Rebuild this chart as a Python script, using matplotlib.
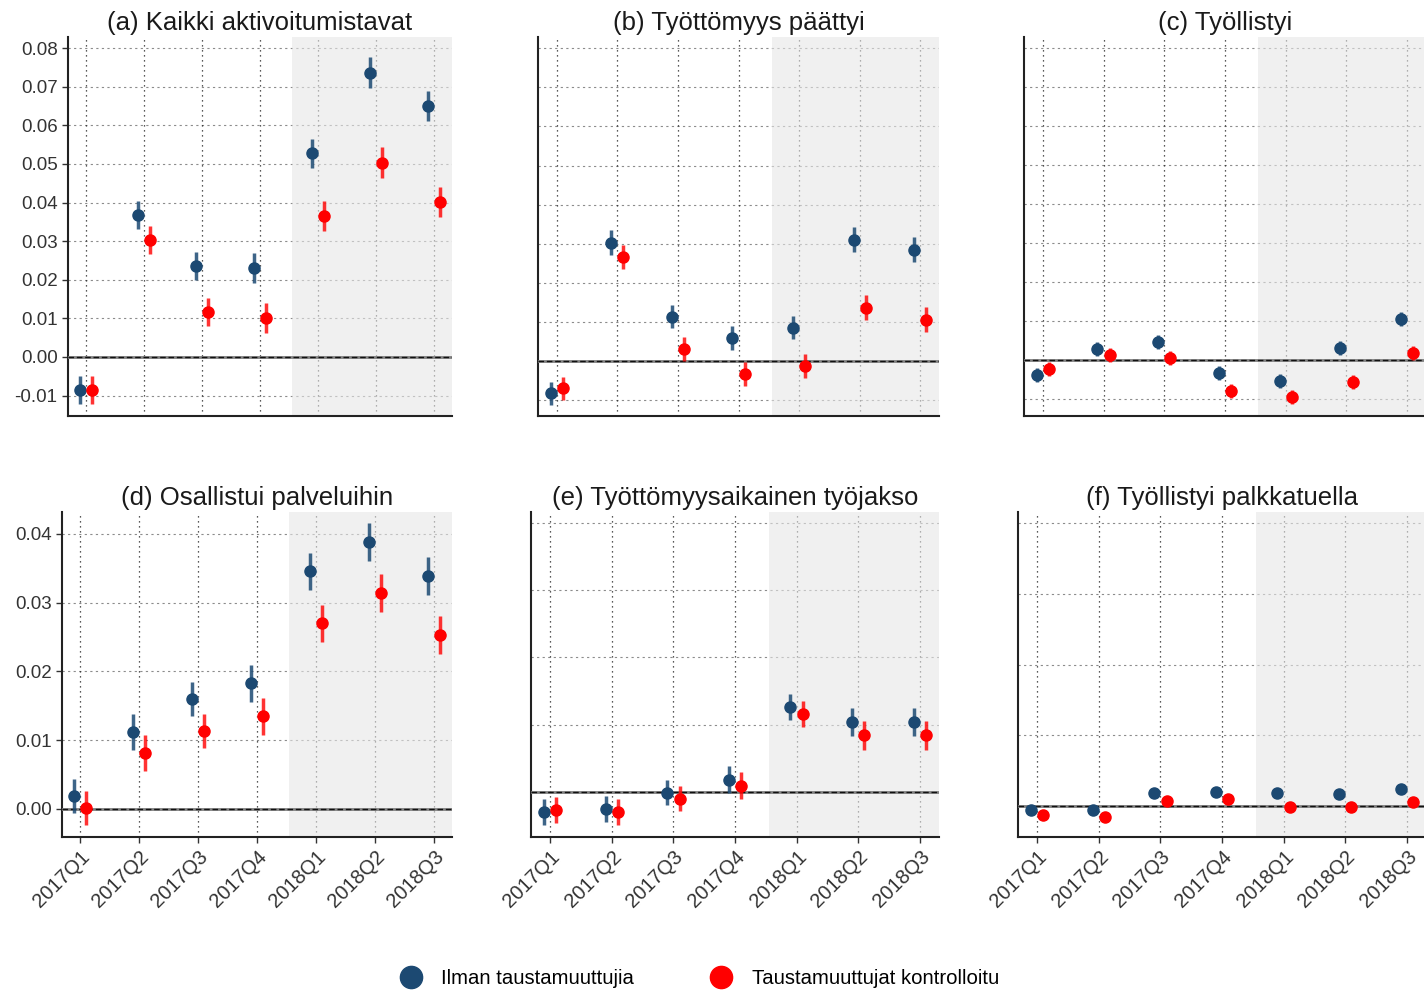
import matplotlib
matplotlib.use('Agg')
import matplotlib.pyplot as plt
from matplotlib.lines import Line2D
import numpy as np

plt.rcParams['font.family'] = ['Liberation Sans', 'DejaVu Sans']

# data
quarters = ['2017Q1', '2017Q2', '2017Q3', '2017Q4', '2018Q1', '2018Q2', '2018Q3']

a_blue = [-0.0085, 0.0368, 0.0236, 0.0230, 0.0528, 0.0736, 0.0650]
a_red = [-0.0085, 0.0303, 0.0117, 0.0101, 0.0365, 0.0503, 0.0402]
a_err = [0.0036, 0.0037, 0.0036, 0.0039, 0.0038, 0.0040, 0.0039]

b_blue = [-0.0083, 0.0303, 0.0113, 0.0059, 0.0085, 0.0310, 0.0285]
b_red = [-0.0070, 0.0265, 0.0031, -0.0034, -0.0013, 0.0136, 0.0105]
b_err = [0.0030, 0.0031, 0.0030, 0.0031, 0.0030, 0.0032, 0.0032]

c_blue = [-0.0039, 0.0028, 0.0047, -0.0034, -0.0054, 0.0031, 0.0106]
c_red = [-0.0023, 0.0013, 0.0005, -0.0080, -0.0096, -0.0057, 0.0018]
c_err = [0.0018, 0.0018, 0.0018, 0.0018, 0.0018, 0.0018, 0.0018]

d_blue = [0.0019, 0.0112, 0.0160, 0.0183, 0.0346, 0.0388, 0.0339]
d_red = [0.0001, 0.0081, 0.0113, 0.0135, 0.0270, 0.0314, 0.0253]
d_err = [0.0025, 0.0026, 0.0025, 0.0027, 0.0027, 0.0028, 0.0028]

e_blue = [-0.0030, -0.0025, -0.0001, 0.0018, 0.0126, 0.0104, 0.0104]
e_red = [-0.0027, -0.0030, -0.0010, 0.0009, 0.0116, 0.0084, 0.0084]
e_err = [0.0019, 0.0019, 0.0019, 0.0020, 0.0019, 0.0021, 0.0021]

f_blue = [-0.0006, -0.0006, 0.0018, 0.0020, 0.0018, 0.0017, 0.0024]
f_red = [-0.0013, -0.0015, 0.0007, 0.0010, -0.0001, -0.0001, 0.0006]
f_err = [0.0007, 0.0007, 0.0007, 0.0007, 0.0007, 0.0007, 0.0007]

titles = ['(a) Kaikki aktivoitumistavat', '(b) Työttömyys päättyi', '(c) Työllistyi',
          '(d) Osallistui palveluihin', '(e) Työttömyysaikainen työjakso',
          '(f) Työllistyi palkkatuella']
legend_labels = ['Ilman taustamuuttujia', 'Taustamuuttujat kontrolloitu']

BLUE = '#1c4972'
RED = '#ff0000'

W, H = 1424, 993
fig = plt.figure(figsize=(W / 100, H / 100), dpi=100)


def box(l, r, t, b):
    return [l / W, 1 - b / H, (r - l) / W, (b - t) / H]


panels = [
    (a_blue, a_red, a_err, (-0.0153, 0.0829), box(68, 452, 37, 416), 0),
    (b_blue, b_red, b_err, (-0.0141, 0.0829), box(538, 939, 37, 416), 1),
    (c_blue, c_red, c_err, (-0.0144, 0.0828), box(1024, 1426, 37, 416), 2),
    (d_blue, d_red, d_err, (-0.0041, 0.0432), box(62, 452, 512, 837), 3),
    (e_blue, e_red, e_err, (-0.0067, 0.0416), box(531, 939, 512, 837), 4),
    (f_blue, f_red, f_err, (-0.0044, 0.0416), box(1018, 1426, 512, 837), 5),
]

x = np.arange(len(quarters))
for blue, red, err, ylim, pos, i in panels:
    ax = fig.add_axes(pos)
    ax.set_xlim(-0.31, 6.31)
    ax.set_ylim(*ylim)
    top = i < 3
    yt = np.arange(-0.01, 0.0851, 0.01) if top else np.arange(0.0, 0.0451, 0.01)
    yt = [v for v in yt if ylim[0] < v < ylim[1]]

    for v in yt:
        ax.axhline(v, color='#8c8c8c', ls=(0, (2, 3)), lw=0.8, zorder=1)
    for xi in x:
        ax.axvline(xi, color='#222222', ls=(0, (1, 3)), lw=0.9, zorder=1)
    ax.axvspan(3.55, 7, color='#e6e6e6', alpha=0.6, lw=0, zorder=2)
    ax.axhline(0, color='#808080', lw=2, zorder=3)
    ax.axhline(0, color='#111111', ls=(0, (4, 2)), lw=1, zorder=3.5)

    ax.errorbar(x - 0.1, blue, yerr=err, fmt='o', color=BLUE, ms=8,
                elinewidth=2.5, ecolor=(0.11, 0.29, 0.45, 0.85), capsize=0, zorder=4)
    ax.errorbar(x + 0.1, red, yerr=err, fmt='o', color=RED, ms=8,
                elinewidth=2.5, ecolor=(1, 0, 0, 0.8), capsize=0, zorder=4)

    for s in ['top', 'right']:
        ax.spines[s].set_visible(False)
    for s in ['left', 'bottom']:
        ax.spines[s].set_color('#222222')
        ax.spines[s].set_linewidth(1.5)

    ax.set_yticks(yt)
    if i in (0, 3):
        ax.set_yticklabels(['%.2f' % v for v in yt], fontsize=13.5, color='#333333')
        ax.tick_params(axis='y', length=4, width=1, color='#333333')
    else:
        ax.set_yticklabels([])
        ax.tick_params(axis='y', length=0)

    ax.set_xticks(x)
    if top:
        ax.set_xticklabels([])
        ax.tick_params(axis='x', length=0)
    else:
        ax.set_xticklabels(quarters, rotation=45, ha='right', va='top',
                           rotation_mode='anchor', fontsize=14.5, color='#333333')
        ax.tick_params(axis='x', length=4, width=1, color='#333333', pad=3)

    ax.set_title(titles[i], fontsize=18.5, color='#1a1a1a', pad=5)

handles = [Line2D([], [], ls='none', marker='o', ms=16, color=BLUE),
           Line2D([], [], ls='none', marker='o', ms=16, color=RED)]
fig.legend(handles, legend_labels, loc='center', bbox_to_anchor=(0.488, 0.015),
           ncol=2, frameon=False, fontsize=14.6, handletextpad=0.5,
           columnspacing=3.3)

fig.savefig('out.png', dpi=100)
